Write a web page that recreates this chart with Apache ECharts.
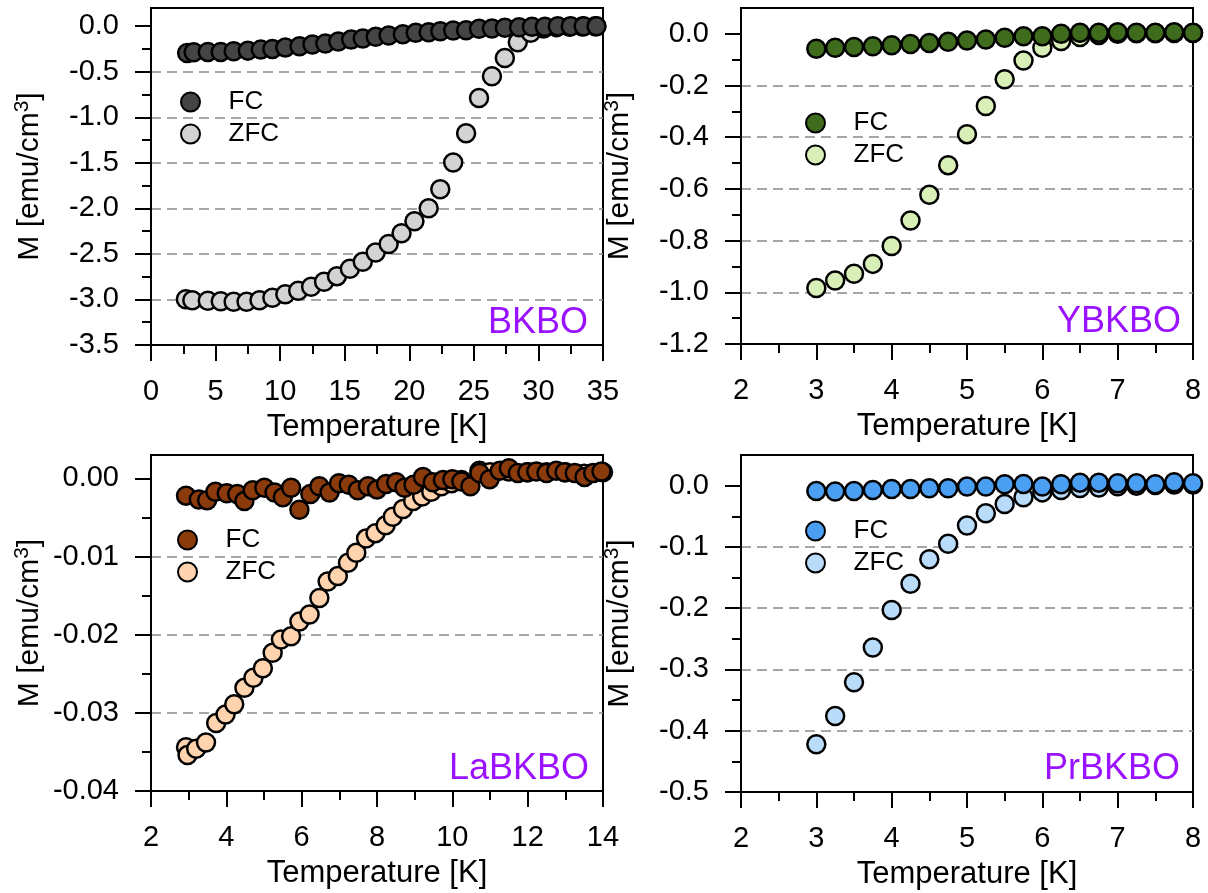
<!DOCTYPE html>
<html>
<head>
<meta charset="utf-8">
<script src="https://cdn.jsdelivr.net/npm/echarts@6.0.0/dist/echarts.min.js"></script>
<style>html,body{margin:0;padding:0;background:#fff}#c{width:1208px;height:893px}</style>
</head>
<body>
<div id="c"></div>
<script>
// ---------------- DATA ----------------
const sampleNames = ['BKBO', 'YBKBO', 'LaBKBO', 'PrBKBO'];
const seriesNames = ['FC', 'ZFC'];

// BKBO
const bkboFcT = [2.8, 3.3, 4.4, 5.4, 6.4, 7.5, 8.5, 9.4, 10.4, 11.5, 12.5, 13.5, 14.5, 15.5, 16.4, 17.4, 18.4, 19.5, 20.5, 21.5, 22.4, 23.4, 24.4, 25.4, 26.4, 27.4, 28.5, 29.5, 30.5, 31.5, 32.5, 33.5, 34.5];
const bkboFcM = [-0.293, -0.286, -0.282, -0.282, -0.275, -0.268, -0.257, -0.250, -0.235, -0.220, -0.202, -0.191, -0.169, -0.147, -0.136, -0.117, -0.103, -0.088, -0.073, -0.066, -0.055, -0.048, -0.044, -0.029, -0.026, -0.018, -0.011, -0.007, -0.007, 0.0, 0.0, 0.0, 0.0];
const bkboZfcT = [2.7, 3.2, 4.4, 5.4, 6.4, 7.4, 8.4, 9.4, 10.4, 11.4, 12.4, 13.4, 14.4, 15.4, 16.4, 17.4, 18.4, 19.4, 20.4, 21.5, 22.4, 23.4, 24.4, 25.4, 26.4, 27.4, 28.4, 29.4, 30.4, 31.4, 32.4, 33.4, 34.4];
const bkboZfcM = [-2.997, -3.008, -3.015, -3.019, -3.026, -3.026, -3.008, -2.982, -2.942, -2.905, -2.861, -2.806, -2.744, -2.663, -2.586, -2.484, -2.392, -2.274, -2.142, -1.999, -1.790, -1.497, -1.174, -0.789, -0.550, -0.348, -0.176, -0.073, -0.025, -0.010, -0.005, -0.002, 0.0];

// YBKBO
const ybkboT = [3, 3.25, 3.5, 3.75, 4, 4.25, 4.5, 4.75, 5, 5.25, 5.5, 5.75, 6, 6.25, 6.5, 6.75, 7, 7.25, 7.5, 7.75, 8];
const ybkboFcM = [-0.058, -0.054, -0.051, -0.048, -0.044, -0.039, -0.035, -0.031, -0.026, -0.022, -0.015, -0.009, -0.009, 0.0, 0.004, 0.004, 0.006, 0.004, 0.004, 0.006, 0.004];
const ybkboZfcM = [-0.983, -0.954, -0.928, -0.890, -0.821, -0.722, -0.623, -0.508, -0.388, -0.279, -0.176, -0.103, -0.054, -0.028, -0.012, -0.004, 0.0, 0.002, 0.002, 0.003, 0.003];

// LaBKBO
const laFcT = [2.93, 3.27, 3.49, 3.71, 4.01, 4.29, 4.48, 4.70, 5.01, 5.28, 5.50, 5.72, 5.94, 6.23, 6.47, 6.74, 6.99, 7.25, 7.49, 7.76, 8.00, 8.24, 8.51, 8.73, 8.97, 9.22, 9.48, 9.75, 10.00, 10.24, 10.48, 10.72, 10.99, 11.26, 11.50, 11.74, 11.99, 12.23, 12.50, 12.76, 12.98, 13.25, 13.51, 13.74, 13.96];
const laFcM = [-0.0022, -0.0027, -0.0028, -0.0017, -0.0019, -0.0020, -0.0029, -0.0015, -0.0012, -0.0018, -0.0024, -0.0012, -0.0040, -0.0020, -0.0010, -0.0018, -0.0006, -0.0008, -0.0015, -0.0010, -0.0014, -0.0007, -0.0005, -0.0012, -0.0008, 0.0002, -0.0005, -0.0002, -0.0001, -0.0004, -0.0010, 0.0007, -0.0001, 0.0010, 0.0013, 0.0007, 0.0008, 0.0009, 0.0007, 0.0010, 0.0008, 0.0007, 0.0002, 0.0007, 0.0009];
const laZfcT = [2.93, 2.97, 3.20, 3.46, 3.73, 3.98, 4.21, 4.48, 4.72, 4.97, 5.23, 5.45, 5.72, 5.94, 6.21, 6.47, 6.69, 6.96, 7.23, 7.45, 7.71, 7.96, 8.23, 8.42, 8.69, 8.96, 9.20, 9.44, 9.71, 9.98, 10.24, 10.72, 11.0, 11.5, 12.0, 12.5, 13.0, 13.5, 14.0];
const laZfcM = [-0.0344, -0.0354, -0.0346, -0.0338, -0.0313, -0.0302, -0.0289, -0.0268, -0.0255, -0.0243, -0.0223, -0.0206, -0.0202, -0.0183, -0.0174, -0.0153, -0.0132, -0.0125, -0.0108, -0.0095, -0.0077, -0.0070, -0.0060, -0.0049, -0.0039, -0.0029, -0.0023, -0.0017, -0.0010, -0.0006, -0.0002, 0.0010, 0.0008, 0.0009, 0.0008, 0.0008, 0.0008, 0.0006, 0.0008];

// PrBKBO
const prbkboT = [3, 3.25, 3.5, 3.75, 4, 4.25, 4.5, 4.75, 5, 5.25, 5.5, 5.75, 6, 6.25, 6.5, 6.75, 7, 7.25, 7.5, 7.75, 8];
const prbkboFcM = [-0.0086, -0.0097, -0.0086, -0.0070, -0.0054, -0.0054, -0.0043, -0.0043, -0.0016, -0.0016, 0.0022, 0.0027, -0.0016, 0.0022, 0.0049, 0.0049, 0.0038, 0.0038, 0.0022, 0.0054, 0.0038];
const prbkboZfcM = [-0.422, -0.376, -0.321, -0.264, -0.203, -0.160, -0.120, -0.095, -0.065, -0.045, -0.030, -0.019, -0.011, -0.007, -0.004, -0.003, -0.001, 0.0, 0.001, 0.002, 0.002];

// Axis ticks
const xTicksBKBO = [0, 5, 10, 15, 20, 25, 30, 35];
const xTicksLa = [2, 4, 6, 8, 10, 12, 14];
const xTicksSmall = [2, 3, 4, 5, 6, 7, 8];
const yTicksBKBO = [-3.5, -3.0, -2.5, -2.0, -1.5, -1.0, -0.5, 0.0];
const yTicksY = [-1.2, -1.0, -0.8, -0.6, -0.4, -0.2, 0.0];
const yTicksLa = [-0.04, -0.03, -0.02, -0.01, 0.00];
const yTicksPr = [-0.5, -0.4, -0.3, -0.2, -0.1, 0.0];
const yTopBKBO = 0.2, yTopY = 0.1, yTopLa = 0.003, yTopPr = 0.05;

// ---------------- STYLE / LAYOUT ----------------
const FONT = '"Liberation Sans", Arial, Helvetica, sans-serif';
const PURPLE = '#9a12ff';
const panels = [
  { grid: {left: 151, top: 8, width: 452, height: 337}, xt: xTicksBKBO, yt: yTicksBKBO, ytop: yTopBKBO, dec: 1,
    fc: [bkboFcT, bkboFcM], zfc: [bkboZfcT, bkboZfcM], cFc: '#444444', cZfc: '#d3d3d3',
    legend: {left: 180, top: 89}, label: {x: 588, y: 335} },
  { grid: {left: 741, top: 8, width: 452, height: 336}, xt: xTicksSmall, yt: yTicksY, ytop: yTopY, dec: 1,
    fc: [ybkboT, ybkboFcM], zfc: [ybkboT, ybkboZfcM], cFc: '#3f6b1c', cZfc: '#d8f0b8',
    legend: {left: 805, top: 110}, label: {x: 1181, y: 334} },
  { grid: {left: 151, top: 455, width: 452, height: 336}, xt: xTicksLa, yt: yTicksLa, ytop: yTopLa, dec: 2,
    fc: [laFcT, laFcM], zfc: [laZfcT, laZfcM], cFc: '#8b3a0c', cZfc: '#ffd3ae',
    legend: {left: 177, top: 527}, label: {x: 589, y: 781} },
  { grid: {left: 741, top: 455, width: 452, height: 337}, xt: xTicksSmall, yt: yTicksPr, ytop: yTopPr, dec: 1,
    fc: [prbkboT, prbkboFcM], zfc: [prbkboT, prbkboZfcM], cFc: '#4a9ff2', cZfc: '#b9dcfb',
    legend: {left: 805, top: 518}, label: {x: 1180, y: 781} }
];

const black = {color: '#000', width: 2};
const grids = [], xAxes = [], yAxes = [], series = [], legends = [], graphics = [];

panels.forEach((p, i) => {
  grids.push(Object.assign({show: true, borderColor: '#000', borderWidth: 2, backgroundColor: 'transparent',
    containLabel: false, outerBoundsMode: 'none'}, p.grid));
  const xt = p.xt;
  xAxes.push({
    type: 'value', gridIndex: i, position: 'bottom',
    min: xt[0], max: xt[xt.length - 1], interval: xt[1] - xt[0],
    axisLine: {show: true, onZero: false, lineStyle: black},
    axisTick: {show: true, inside: false, length: 16, lineStyle: black},
    minorTick: {show: true, splitNumber: 2, length: 9, lineStyle: black},
    splitLine: {show: false}, minorSplitLine: {show: false},
    axisLabel: {show: true, margin: 32, fontSize: 29, color: '#000', fontFamily: FONT, formatter: v => String(v)},
    name: 'Temperature [K]', nameLocation: 'middle', nameGap: 67,
    nameTextStyle: {fontSize: 31, color: '#000', fontFamily: FONT}
  });
  const yt = p.yt;
  const step = yt[1] - yt[0];
  const minors = yt.slice(0, -1).map(v => +(v + step / 2).toFixed(6));
  yAxes.push({
    type: 'value', gridIndex: i, position: 'left',
    min: yt[0], max: p.ytop, interval: step,
    axisLine: {show: true, onZero: false, lineStyle: black},
    axisTick: {show: true, inside: false, length: 16, lineStyle: black, customValues: yt},
    axisLabel: {show: true, margin: 32, fontSize: 29, color: '#000', fontFamily: FONT, customValues: yt,
      formatter: v => Number(v).toFixed(p.dec)},
    splitLine: {show: true, showMinLine: false, showMaxLine: false,
      lineStyle: {color: '#8a8a8a', width: 1.5, type: [10, 6]}},
    name: 'M [emu/cm{sup|3}]', nameLocation: 'middle', nameGap: 104, nameRotate: 90,
    nameTextStyle: {fontSize: 30, color: '#000', fontFamily: FONT,
      rich: {sup: {fontSize: 21, color: '#000', fontFamily: FONT, verticalAlign: 'top', padding: [0, 0, 14, 0]}}}
  });
  yAxes.push({
    type: 'value', gridIndex: i, position: 'left',
    min: yt[0], max: p.ytop,
    axisLine: {show: false}, axisLabel: {show: false}, splitLine: {show: false},
    axisTick: {show: true, inside: false, length: 9, lineStyle: black, customValues: minors}
  });
  const mk = (name, arr, color) => ({
    type: 'scatter', name: name + '|' + i, xAxisIndex: i, yAxisIndex: 2 * i,
    data: arr[0].map((t, k) => [t, arr[1][k]]),
    symbol: 'circle', symbolSize: 18,
    itemStyle: {color: color, borderColor: '#000', borderWidth: 2.5, opacity: 1},
    emphasis: {disabled: true}, silent: true
  });
  series.push(mk(seriesNames[1], p.zfc, p.cZfc));
  series.push(mk(seriesNames[0], p.fc, p.cFc));
  legends.push({
    show: true, left: p.legend.left, top: p.legend.top, orient: 'vertical', padding: 0,
    itemGap: 6, itemWidth: 66, itemHeight: 19, icon: 'circle', selectedMode: false,
    data: seriesNames.map(n => n + '|' + i),
    formatter: n => n.split('|')[0],
    textStyle: {fontSize: 26, color: '#000', fontFamily: FONT}
  });
  graphics.push({
    type: 'text', x: p.label.x, y: p.label.y + 6, silent: true,
    style: {text: sampleNames[i], fill: PURPLE, fontSize: 36, fontFamily: FONT,
      align: 'right', verticalAlign: 'bottom'}
  });
});

const chart = echarts.init(document.getElementById('c'), null, {renderer: 'canvas'});
chart.setOption({
  animation: false,
  backgroundColor: '#fff',
  textStyle: {fontFamily: FONT},
  grid: grids, xAxis: xAxes, yAxis: yAxes, series: series, legend: legends, graphic: graphics
});
</script>
</body>
</html>
